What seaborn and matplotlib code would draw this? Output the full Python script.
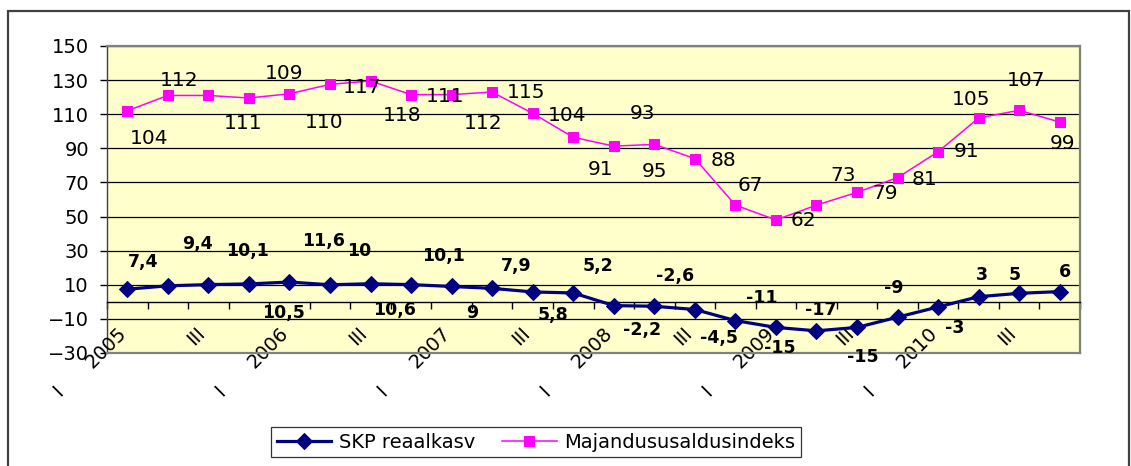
import numpy as np
import pandas as pd
import matplotlib
matplotlib.use("Agg")
import matplotlib.pyplot as plt
import seaborn as sns
from matplotlib.patches import Rectangle

# ---------------- data ----------------
years = ["2005", "2006", "2007", "2008", "2009", "2010"]
quarters = ["I", "II", "III", "IV"]

skp_values = [7.4, 9.4, 10.1, 10.5, 11.6, 10, 10.6, 10.1, 9, 7.9, 5.8, 5.2,
              -2.2, -2.6, -4.5, -11, -15, -17, -15, -9, -3, 3, 5, 6]
mi_values = [112, 121, 121, 119.5, 122, 127.5, 129.5, 121.5, 121.5, 123, 110.5, 96.5,
             91.3, 92.3, 84, 56.7, 48, 56.7, 64.2, 72.8, 88, 107.8, 112.3, 105.4]
mi_labels = ["104", "112", "111", "109", "110", "117", "118", "111", "112", "115", "104", "91",
             "93", "95", "88", "67", "62", "73", "79", "81", "91", "105", "107", "99"]

# label placement (category index, value) as seen in the original
skp_label_x = [0.4, 1.72, 2.96, 3.85, 4.84, 5.73, 6.59, 7.8, 8.5, 9.6, 10.5, 11.6,
               12.7, 13.5, 14.6, 15.66, 16.1, 17.1, 18.15, 18.9, 20.4, 21.07, 21.9, 23.14]
skp_label_y = [23.5, 33.9, 30, -6.8, 35.8, 30, -4.8, 26.8, -6.4, 21, -7.8, 21,
               -16.6, 15, -21, 2.2, -27, -4.8, -32.2, 7.9, -15.6, 15.7, 15.7, 17.3]
mi_label_x = [0.55, 1.28, 2.86, 3.87, 4.86, 5.79, 6.78, 7.84, 8.78, 9.84, 10.85, 11.67,
              12.7, 13.0, 14.7, 15.36, 16.68, 17.66, 18.7, 19.66, 20.7, 20.82, 22.17, 23.06]
mi_label_y = [95.9, 129.6, 104.7, 133.6, 105, 125.8, 109, 120.3, 104.7, 122.6, 109.5, 77.3,
              110.5, 76.3, 82.7, 68.2, 47.6, 74.3, 63.6, 71.8, 88, 118.7, 129.6, 93]

series_names = ["SKP reaalkasv", "Majandususaldusindeks"]

# ---------------- figure ----------------
W, H = 1131, 466
fig = plt.figure(figsize=(W / 100, H / 100), dpi=100)
ax = fig.add_axes([107 / W, 1 - 353 / H, (1080 - 107) / W, (353 - 46) / H])
ax.set_facecolor("#FFFFCC")

idx = np.arange(len(skp_values))
df = pd.DataFrame({"idx": idx, "skp": skp_values, "mi": mi_values})

sns.lineplot(data=df, x="idx", y="skp", ax=ax, color="#000080", linewidth=2.3,
             marker="D", markersize=8.5, markeredgecolor="#000080",
             markerfacecolor="#000080", label=series_names[0], legend=False, zorder=4)
sns.lineplot(data=df, x="idx", y="mi", ax=ax, color="#FF00FF", linewidth=1.1,
             marker="s", markersize=6.5, markeredgecolor="#FF00FF",
             markerfacecolor="#FF00FF", label=series_names[1], legend=False, zorder=4)

ax.set_xlim(-0.5, len(idx) - 0.5)
ax.set_ylim(-30, 150)
ax.set_yticks(np.arange(-30, 151, 20))
ax.set_xlabel("")
ax.set_ylabel("")

ax.yaxis.grid(True, color="#000000", linewidth=0.9)
ax.xaxis.grid(False)
ax.set_axisbelow(True)

for s in ["top", "right"]:
    ax.spines[s].set_color("#808080")
    ax.spines[s].set_linewidth(1.6)
ax.spines["left"].set_color("#404040")
ax.spines["left"].set_linewidth(1.0)
ax.spines["bottom"].set_position(("data", 0))
ax.spines["bottom"].set_color("#000000")
ax.spines["bottom"].set_linewidth(1.0)
ax.axhline(-30, color="#808080", linewidth=1.6, zorder=5, clip_on=False)

ax.set_xticks(np.arange(-0.5, len(idx), 1))
ax.set_xticklabels([])
ax.tick_params(axis="x", direction="out", length=5, width=1, color="#000000")
ax.tick_params(axis="y", direction="out", length=5, width=1, color="#000000",
               pad=8, labelsize=14)

# category labels (every second quarter)
for i in range(0, len(idx), 2):
    q = quarters[i % 4]
    if i % 4 == 0:
        ax.annotate(years[i // 4], xy=(i, 0), xytext=(-4, -28), textcoords="offset pixels",
                    rotation=45, rotation_mode="anchor", ha="right", va="center",
                    fontsize=14, annotation_clip=False)
        ax.annotate(q, xy=(i, 0), xytext=(-69, -89), textcoords="offset pixels",
                    rotation=45, rotation_mode="anchor", ha="center", va="center",
                    fontsize=14, annotation_clip=False)
    else:
        ax.annotate(q, xy=(i, 0), xytext=(-6, -28), textcoords="offset pixels",
                    rotation=45, rotation_mode="anchor", ha="right", va="center",
                    fontsize=14, annotation_clip=False)

# data labels
for v, lx, ly in zip(skp_values, skp_label_x, skp_label_y):
    txt = ("%g" % v).replace(".", ",")
    ax.text(lx, ly, txt, ha="center", va="center", fontsize=12.5,
            fontweight="bold", color="#000000", zorder=6, clip_on=False)
for t, lx, ly in zip(mi_labels, mi_label_x, mi_label_y):
    ax.text(lx, ly, t, ha="center", va="center", fontsize=14.5,
            color="#000000", zorder=6, clip_on=False)

# legend
handles = ax.get_lines()[:2]
leg = fig.legend(handles, series_names, loc="center",
                 bbox_to_anchor=(536 / W, 1 - 442 / H), ncol=2, frameon=True,
                 fancybox=False, edgecolor="#000000", fontsize=14,
                 handlelength=2.8, columnspacing=1.4, borderpad=0.3,
                 handletextpad=0.4)
leg.get_frame().set_linewidth(0.9)

# outer chart border
fig.add_artist(Rectangle((8 / W, -0.05), (1129 - 8) / W, 1 - 11 / H + 0.05,
                         transform=fig.transFigure, fill=False,
                         edgecolor="#404040", linewidth=1.6))

fig.savefig("out.png", dpi=100)
